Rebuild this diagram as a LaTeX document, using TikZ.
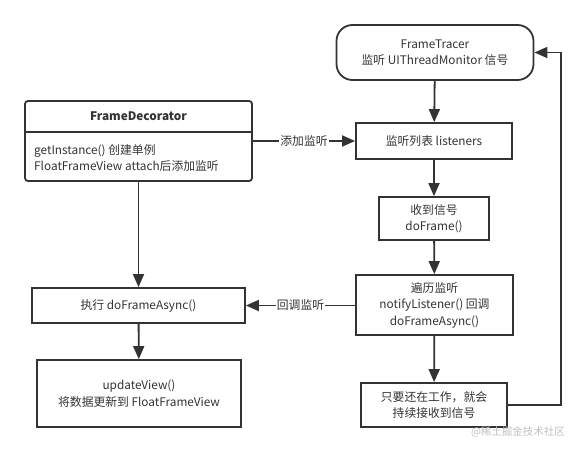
\documentclass[tikz,border=0pt]{standalone}
\usepackage{fontspec}
\setmainfont{Noto Sans CJK SC}
\usetikzlibrary{arrows.meta}
\definecolor{ink}{HTML}{333333}
\tikzset{
  box/.style={draw=ink,line width=1.8pt,text=ink,align=center,inner sep=0pt,font=\fontsize{11.8}{16.5}\selectfont},
  flow/.style={draw=ink,line width=1.8pt,-{Triangle[length=13pt,width=11pt]}},
  tag/.style={fill=white,text=ink,inner sep=1pt,font=\fontsize{11.8}{16.5}\selectfont}
}
\begin{document}
\begin{tikzpicture}[x=1pt,y=-1pt]
  \useasboundingbox (0,0) rectangle (586,452);
  % right column
  \node[box,rounded corners=16pt,minimum width=197pt,minimum height=55pt] (tracer) at (435,52.5) {FrameTracer\\监听 UIThreadMonitor 信号};
  \node[box,minimum width=156pt,minimum height=36pt] (listeners) at (434,141) {监听列表 listeners};
  \node[box,minimum width=110pt,minimum height=43pt] (doframe) at (434,218.5) {收到信号\\doFrame()};
  \node[box,minimum width=157pt,minimum height=60pt] (notify) at (434.5,305) {遍历监听\\notifyListener() 回调\\doFrameAsync()};
  \node[box,minimum width=146pt,minimum height=44pt] (keep) at (434,405) {只要还在工作，就会\\持续接收到信号};
  % left column
  \node[box,rounded corners=3pt,minimum width=227pt,minimum height=80pt] (deco) at (138.5,141) {};
  \draw[ink,line width=1.8pt] (deco.west |- 0,132) -- (deco.east |- 0,132);
  \node[text=ink,font=\fontsize{11.8}{16.5}\selectfont\bfseries] (decohead) at (138.5,116.5) {FrameDecorator};
  \node[text=ink,anchor=west,align=left,inner sep=0pt,font=\fontsize{11.8}{16.5}\selectfont] (decobody) at (34,158) {getInstance() 创建单例\\FloatFrameView attach后添加监听};
  \node[box,minimum width=213pt,minimum height=35pt] (exec) at (138.5,305.5) {执行 doFrameAsync()};
  \node[box,minimum width=204pt,minimum height=67pt] (update) at (139,393.5) {updateView()\\将数据更新到 FloatFrameView};
  % connectors
  \draw[flow] (tracer) -- (listeners);
  \draw[flow] (listeners) -- (doframe);
  \draw[flow] (doframe) -- (notify);
  \draw[flow] (notify) -- (keep);
  \coordinate (loop) at (561,405);
  \draw[flow] (keep.east) -- (loop) |- (tracer.east);
  \draw[flow] (deco.east) -- node[tag] {添加监听} (listeners.west);
  \draw[flow] (deco.south) -- (exec.north);
  \draw[flow] (notify.west |- exec) -- node[tag] {回调监听} (exec.east);
  \draw[flow] (exec) -- (update);
  \node[text=black!25,font=\fontsize{10.5}{12}\selectfont] (mark) at (518,432) {@稀土掘金技术社区};
\end{tikzpicture}
\end{document}
